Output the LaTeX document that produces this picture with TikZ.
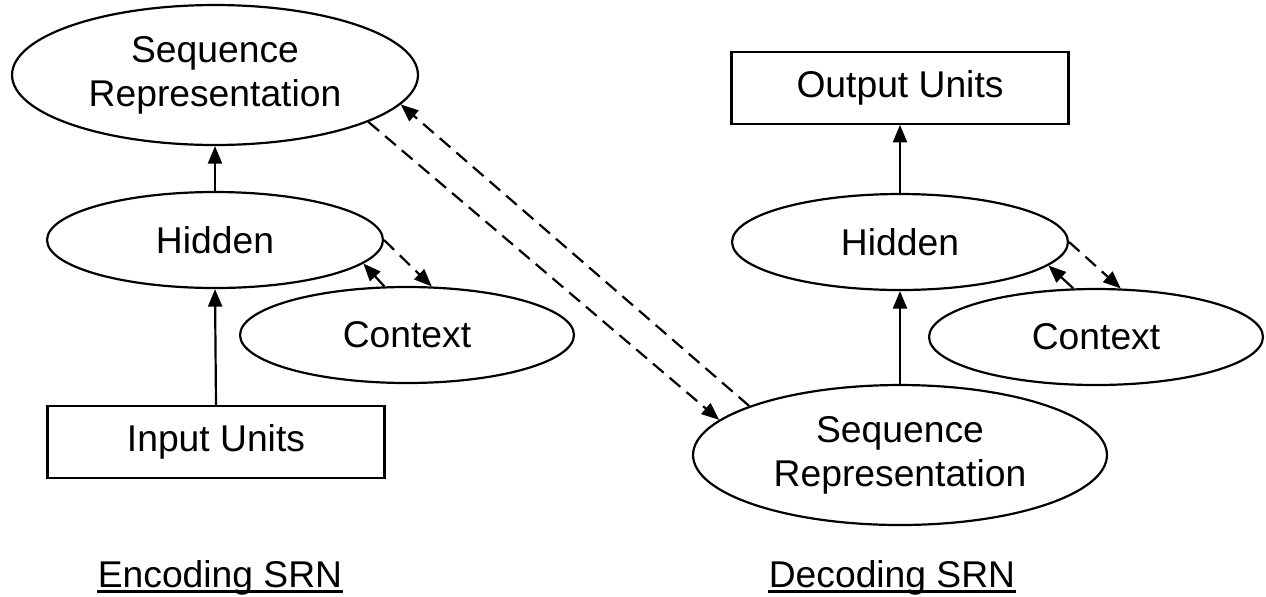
\documentclass[tikz,border=0pt]{standalone}
\usepackage{fontspec}
\setmainfont{Liberation Sans}
\usetikzlibrary{arrows.meta,shapes.geometric}
\begin{document}
\begin{tikzpicture}[x=0.02cm,y=-0.02cm,
  every node/.style={font=\fontsize{21.2}{25}\selectfont, align=center, inner sep=0pt},
  oval/.style={ellipse, draw, line width=1.25pt},
  unitbox/.style={rectangle, draw, line width=1.25pt, minimum width=6.74cm, minimum height=1.43cm},
  conn/.style={line width=1.25pt, -{Triangle[length=10pt,width=8pt]}},
  dconn/.style={conn, dash pattern=on 8pt off 4.5pt},
  lbl/.style={anchor=base}]
\useasboundingbox (0,0) rectangle (1266,596);
% Encoding SRN
\node[oval, minimum width=8.12cm, minimum height=2.8cm] (seqL) at (215,75) {Sequence\\Representation};
\node[oval, minimum width=6.72cm, minimum height=1.92cm] (hidL) at (215,240) {Hidden};
\node[oval, minimum width=6.68cm, minimum height=1.92cm] (ctxL) at (407,335) {Context};
\node[unitbox] (inL) at (216,442) {Input Units};
% Decoding SRN
\node[unitbox] (outR) at (900,88) {Output Units};
\node[oval, minimum width=6.72cm, minimum height=1.92cm] (hidR) at (900,242) {Hidden};
\node[oval, minimum width=6.68cm, minimum height=1.92cm] (ctxR) at (1096,337) {Context};
\node[oval, minimum width=8.28cm, minimum height=2.8cm] (seqR) at (900,455) {Sequence\\Representation};
% labels
\node[lbl] (encT) at (220,587) {Encoding SRN};
\node[lbl] (decT) at (892,587) {Decoding SRN};
\draw[line width=1.25pt] ([yshift=-2.6pt]encT.base west) -- ([yshift=-2.6pt]encT.base east);
\draw[line width=1.25pt] ([yshift=-2.6pt]decT.base west) -- ([yshift=-2.6pt]decT.base east);
% connectors left
\draw[conn] (inL.north) -- (hidL.south);
\draw[conn] (hidL.north) -- (seqL.south);
\draw[conn] (ctxL.115.6) -- (hidL.-9);
\draw[dconn] (hidL.east) -- (ctxL.63);
% connectors right
\draw[conn] (seqR.north) -- (hidR.south);
\draw[conn] (hidR.north) -- (outR.south);
\draw[conn] (ctxR.115.6) -- (hidR.-9);
\draw[dconn] (hidR.east) -- (ctxR.63);
% long dashed
\draw[dconn] (seqL.-17.2) -- (seqR.169.3);
\draw[dconn] (seqR.162.5) -- (seqL.-9.9);
\end{tikzpicture}
\end{document}
